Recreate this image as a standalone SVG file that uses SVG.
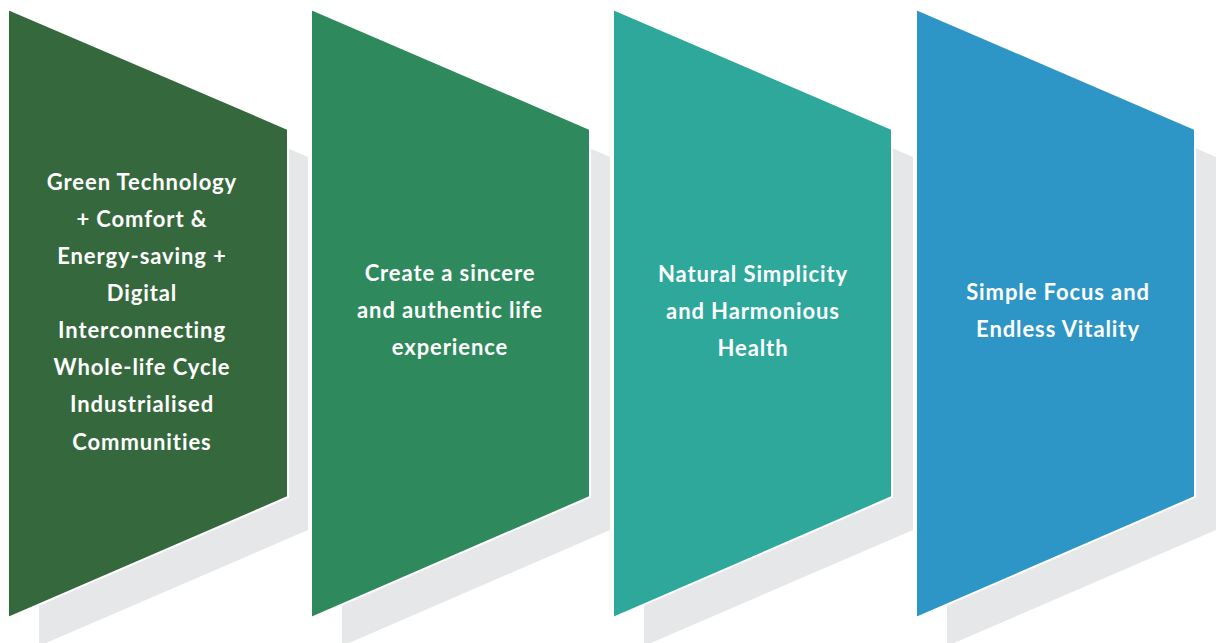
<svg xmlns="http://www.w3.org/2000/svg" width="1223" height="643" viewBox="0 0 1223 643">
<style>
.shadow{fill:#E6E7E8;}
.panel{stroke:#FFFFFF;stroke-width:2;stroke-linejoin:miter;}
.label{font-family:Lato,"Open Sans","Liberation Sans",sans-serif;font-weight:700;font-size:22px;letter-spacing:0.9px;fill:#FFFFFF;text-anchor:middle;}
</style>
<rect width="1223" height="643" fill="#FFFFFF"/>
<g id="shadows">
<polygon class="shadow" points="39,41 308,157 308,530 39,646"/>
<polygon class="shadow" points="342,41 610,157 610,530 342,646"/>
<polygon class="shadow" points="644,41 913,157 913,530 644,646"/>
<polygon class="shadow" points="947,41 1216,157 1216,530 947,646"/>
</g>
<g id="node1">
<polygon class="panel" fill="#35693D" points="8,9 288,129 288,497 8,618"/>
<text class="label" x="142" y="190">Green Technology</text>
<text class="label" x="142" y="227">+ Comfort &amp;</text>
<text class="label" x="142" y="264">Energy-saving +</text>
<text class="label" x="142" y="301">Digital</text>
<text class="label" x="142" y="338">Interconnecting</text>
<text class="label" x="142" y="375">Whole-life Cycle</text>
<text class="label" x="142" y="412">Industrialised</text>
<text class="label" x="142" y="450">Communities</text>
</g>
<g id="node2">
<polygon class="panel" fill="#2E8A5C" points="311,9 590,129 590,497 311,618"/>
<text class="label" x="450" y="281">Create a sincere</text>
<text class="label" x="450" y="318">and authentic life</text>
<text class="label" x="450" y="355">experience</text>
</g>
<g id="node3">
<polygon class="panel" fill="#2DA89A" points="613,9 892,129 892,497 613,618"/>
<text class="label" x="753" y="282">Natural Simplicity</text>
<text class="label" x="753" y="319">and Harmonious</text>
<text class="label" x="753" y="356">Health</text>
</g>
<g id="node4">
<polygon class="panel" fill="#2E96C6" points="916,9 1195,129 1195,497 916,618"/>
<text class="label" x="1058" y="300">Simple Focus and</text>
<text class="label" x="1058" y="337">Endless Vitality</text>
</g>
<g id="connectors"></g>
</svg>
